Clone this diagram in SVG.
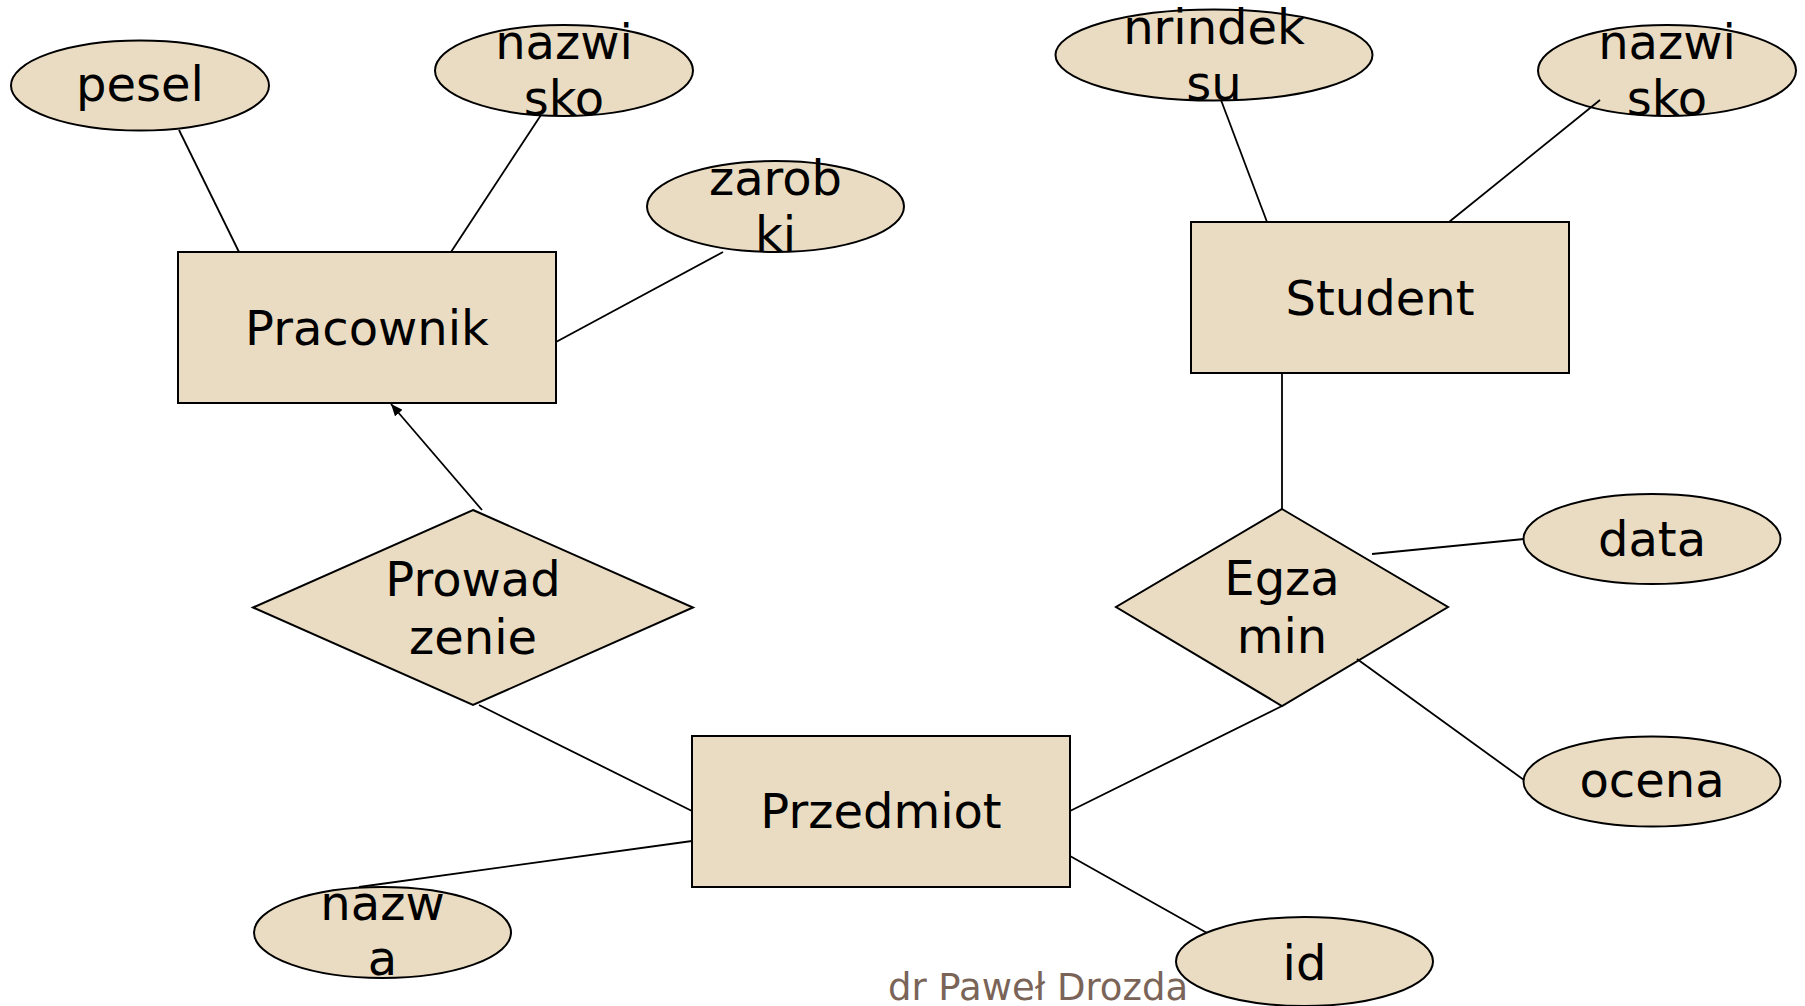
<svg xmlns="http://www.w3.org/2000/svg" width="1805" height="1006" viewBox="0 0 1805 1006">
  <style>
    .shape { fill: #EADCC2; stroke: #000; stroke-width: 2; }
    .link { stroke: #000; stroke-width: 1.8; fill: none; }
    .lbl { font-family: "DejaVu Sans", Verdana, sans-serif; font-size: 48px; fill: #000; text-anchor: middle; }
    .credit { font-family: "DejaVu Sans", Verdana, sans-serif; font-size: 37px; fill: #7A6458; text-anchor: middle; }
  </style>
  <defs>
    <marker id="arrow" viewBox="0 0 12 10" refX="12" refY="5" markerWidth="12" markerHeight="10" markerUnits="userSpaceOnUse" orient="auto">
      <path d="M0,0 L12,5 L0,10 z" fill="#000"/>
    </marker>
  </defs>
  <rect width="1805" height="1006" fill="#fff"/>

  <!-- author credit, under the shapes -->
  <text class="credit" x="1038" y="1000">dr Paweł Drozda</text>

  <!-- entities -->
  <g id="pracownik">
    <rect class="shape" x="178" y="252" width="378" height="151"/>
    <text class="lbl" x="367" y="345">Pracownik</text>
  </g>
  <g id="student">
    <rect class="shape" x="1191" y="222" width="378" height="151"/>
    <text class="lbl" x="1380" y="315">Student</text>
  </g>
  <g id="przedmiot">
    <rect class="shape" x="692" y="736" width="378" height="151"/>
    <text class="lbl" x="881" y="828">Przedmiot</text>
  </g>

  <!-- relationships -->
  <g id="prowadzenie">
    <polygon class="shape" points="473,510 693,607.5 473,705 253,607.5"/>
    <text class="lbl" x="473" y="596">Prowad</text>
    <text class="lbl" x="473" y="654">zenie</text>
  </g>
  <g id="egzamin">
    <polygon class="shape" points="1282,509 1448,607 1282,706 1116,607"/>
    <text class="lbl" x="1282" y="595">Egza</text>
    <text class="lbl" x="1282" y="653">min</text>
  </g>

  <!-- attributes -->
  <g id="attr-pesel">
    <ellipse class="shape" cx="140" cy="85.5" rx="129" ry="45"/>
    <text class="lbl" x="140" y="101">pesel</text>
  </g>
  <g id="attr-nazwisko-pracownik">
    <ellipse class="shape" cx="564" cy="70.5" rx="129" ry="45.5"/>
    <text class="lbl" x="564" y="59">nazwi</text>
    <text class="lbl" x="564" y="115">sko</text>
  </g>
  <g id="attr-zarobki">
    <ellipse class="shape" cx="775.5" cy="206.5" rx="128.5" ry="45.5"/>
    <text class="lbl" x="775.5" y="195">zarob</text>
    <text class="lbl" x="775.5" y="251">ki</text>
  </g>
  <g id="attr-nrindeksu">
    <ellipse class="shape" cx="1214" cy="55" rx="158.5" ry="45.5"/>
    <text class="lbl" x="1214" y="44">nrindek</text>
    <text class="lbl" x="1214" y="100">su</text>
  </g>
  <g id="attr-nazwisko-student">
    <ellipse class="shape" cx="1667" cy="70.5" rx="129" ry="45.5"/>
    <text class="lbl" x="1667" y="59">nazwi</text>
    <text class="lbl" x="1667" y="115">sko</text>
  </g>
  <g id="attr-data">
    <ellipse class="shape" cx="1652" cy="539" rx="128.5" ry="45"/>
    <text class="lbl" x="1652" y="556">data</text>
  </g>
  <g id="attr-ocena">
    <ellipse class="shape" cx="1652" cy="781.5" rx="128.5" ry="45"/>
    <text class="lbl" x="1652" y="797">ocena</text>
  </g>
  <g id="attr-nazwa">
    <ellipse class="shape" cx="382.5" cy="932.5" rx="128.5" ry="45.5"/>
    <text class="lbl" x="382.5" y="920">nazw</text>
    <text class="lbl" x="382.5" y="975">a</text>
  </g>
  <g id="attr-id">
    <ellipse class="shape" cx="1304.5" cy="961.5" rx="128.5" ry="44.5"/>
    <text class="lbl" x="1304.5" y="980">id</text>
  </g>

  <!-- connectors, drawn over the shapes -->
  <g id="connectors">
    <line class="link" x1="179" y1="130" x2="239" y2="252"/>
    <line class="link" x1="541" y1="115" x2="451" y2="252"/>
    <line class="link" x1="723" y1="252" x2="556" y2="342"/>
    <line class="link" x1="1221" y1="100" x2="1267" y2="222"/>
    <line class="link" x1="1600" y1="100" x2="1449" y2="222"/>
    <line class="link" x1="1282" y1="373" x2="1282" y2="509"/>
    <line class="link" x1="1372" y1="554" x2="1524" y2="539"/>
    <line class="link" x1="1357" y1="659" x2="1524" y2="780"/>
    <line class="link" x1="1282" y1="706" x2="1070" y2="811"/>
    <line class="link" x1="482" y1="510" x2="391" y2="404" marker-end="url(#arrow)"/>
    <line class="link" x1="479" y1="705" x2="692" y2="811"/>
    <line class="link" x1="359" y1="887" x2="692" y2="841"/>
    <line class="link" x1="1070" y1="856" x2="1207" y2="933"/>
  </g>
</svg>
